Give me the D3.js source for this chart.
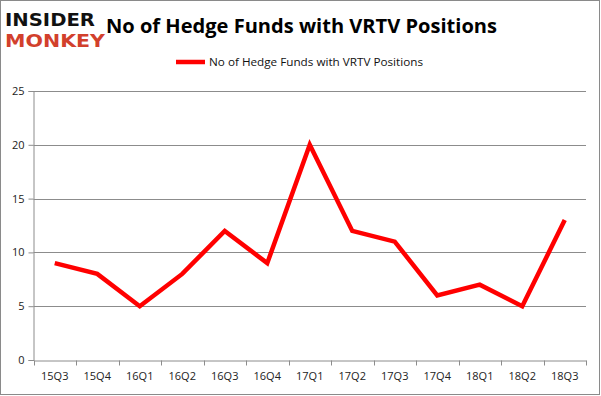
<!DOCTYPE html>
<html><head><meta charset="utf-8">
<script src="https://cdn.jsdelivr.net/npm/d3@7"></script>
<style>html,body{margin:0;padding:0;background:#fff;}svg{display:block;}</style>
</head><body>
<svg id="c" width="601" height="396"></svg>
<script>
const categories = ["15Q3","15Q4","16Q1","16Q2","16Q3","16Q4","17Q1","17Q2","17Q3","17Q4","18Q1","18Q2","18Q3"];
const values = [9,8,5,8,12,9,20,12,11,6,7,5,13];
const yTicks = [0,5,10,15,20,25];
const seriesName = "No of Hedge Funds with VRTV Positions";
const titleText = "No of Hedge Funds with VRTV Positions";

(function(){
const svg = d3.select("#c");
const font = "'Open Sans', 'Liberation Sans', sans-serif";

svg.append("rect").attr("x",0.5).attr("y",0.5).attr("width",599).attr("height",394)
  .attr("fill","#fff").attr("stroke","#8a8a8a").attr("stroke-width",1);

const pLeft = 33.5, pRight = 586, pTop = 91, pBottom = 360;
const x = d3.scaleBand().domain(categories).range([pLeft, pRight]);
const y = d3.scaleLinear().domain([0,25]).range([pBottom, pTop]);

// gridlines
svg.append("g").selectAll("line").data(yTicks.filter(d=>d>0)).join("line")
  .attr("x1",pLeft).attr("x2",pRight)
  .attr("y1",d=>Math.round(y(d))+0.5).attr("y2",d=>Math.round(y(d))+0.5)
  .attr("stroke","#8c8c8c").attr("stroke-width",1);

// y axis
const yAxis = svg.append("g").attr("transform",`translate(${pLeft},0)`)
  .call(d3.axisLeft(y).tickValues(yTicks).tickSize(5).tickPadding(4).tickFormat(d3.format("d")));
yAxis.select(".domain").attr("stroke","#8c8c8c");
yAxis.selectAll(".tick line").attr("stroke","#8c8c8c");
yAxis.selectAll("text").attr("font-family",font).attr("font-size",11).attr("fill","#222");

// x axis
const xAxis = svg.append("g").attr("transform",`translate(0,${Math.round(pBottom)+0.5})`)
  .call(d3.axisBottom(x).tickSize(0).tickPadding(12));
xAxis.select(".domain").attr("stroke","#8c8c8c");
xAxis.selectAll("text").attr("font-family",font).attr("font-size",11).attr("fill","#222");
const bounds = categories.map(c=>x(c)).concat([pRight]);
xAxis.selectAll(".bt").data(bounds).join("line").attr("class","bt")
  .attr("x1",d=>Math.round(d)+0.5).attr("x2",d=>Math.round(d)+0.5)
  .attr("y1",0).attr("y2",5).attr("stroke","#8c8c8c");

// line
const line = d3.line().x((d,i)=>x(categories[i])+x.bandwidth()/2).y(d=>y(d));
svg.append("path").datum(values).attr("d",line)
  .attr("fill","none").attr("stroke","#ff0000").attr("stroke-width",4.5)
  .attr("stroke-linejoin","miter");

// title
svg.append("text").attr("x",106).attr("y",33).text(titleText)
  .attr("font-family",font).attr("font-weight",700).attr("font-size",20)
  .attr("textLength",391).attr("lengthAdjust","spacingAndGlyphs").attr("fill","#000");

// legend
svg.append("line").attr("x1",176).attr("x2",205).attr("y1",62).attr("y2",62)
  .attr("stroke","#ff0000").attr("stroke-width",4.5);
svg.append("text").attr("x",209).attr("y",66).text(seriesName)
  .attr("font-family",font).attr("font-size",11.5)
  .attr("textLength",214).attr("lengthAdjust","spacingAndGlyphs").attr("fill","#111");

// logo
svg.append("text").attr("x",5).attr("y",26).text("INSIDER")
  .attr("font-family","'DejaVu Sans', sans-serif").attr("font-weight",900).attr("font-size",18)
  .attr("textLength",90).attr("lengthAdjust","spacingAndGlyphs").attr("fill","#111");
svg.append("text").attr("x",5).attr("y",47).text("MONKEY")
  .attr("font-family","'DejaVu Sans', sans-serif").attr("font-weight",900).attr("font-size",18)
  .attr("textLength",100).attr("lengthAdjust","spacingAndGlyphs").attr("fill","#d2402c");
})();
</script>
</body></html>
